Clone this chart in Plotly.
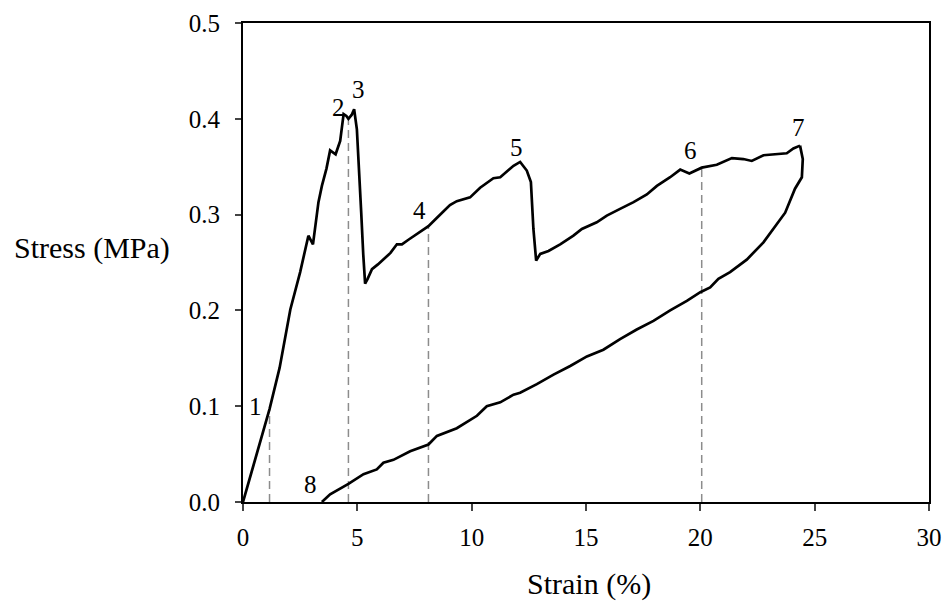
import plotly.graph_objects as go

# Loading curve (strain %, stress MPa)
load_strain = [0.0, 0.5, 1.16, 1.6, 2.07, 2.5, 2.86, 3.06, 3.18, 3.30, 3.45, 3.65, 3.81, 4.05, 4.25, 4.40,
               4.52, 4.61, 4.75, 4.86, 4.98, 5.08, 5.17, 5.26, 5.34, 5.45, 5.64, 5.9, 6.14, 6.45, 6.73, 6.95,
               7.25, 7.60, 7.85, 8.11, 8.45, 8.77, 9.05, 9.35, 9.65, 9.93, 10.37, 10.7, 10.95, 11.25, 11.55, 11.83,
               12.12, 12.41, 12.59, 12.70, 12.82, 13.00, 13.36, 13.87, 14.45, 14.82, 15.47, 15.91,
               16.49, 17.08, 17.66, 18.10, 18.68, 19.12, 19.52, 20.06, 20.72, 21.38, 21.88, 22.25,
               22.76, 23.30, 23.78, 24.07, 24.36]
load_stress = [0.0, 0.043, 0.097, 0.140, 0.201, 0.240, 0.278, 0.269, 0.290, 0.313, 0.330, 0.348, 0.367, 0.363, 0.377, 0.405,
               0.403, 0.400, 0.404, 0.410, 0.389, 0.350, 0.302, 0.258, 0.228, 0.233, 0.243, 0.248, 0.253, 0.260, 0.269, 0.269,
               0.274, 0.280, 0.284, 0.288, 0.296, 0.304, 0.310, 0.314, 0.316, 0.318, 0.328, 0.334, 0.338, 0.339, 0.345, 0.351,
               0.355, 0.346, 0.334, 0.285, 0.252, 0.259, 0.262, 0.269, 0.278, 0.285, 0.292, 0.299,
               0.306, 0.313, 0.321, 0.330, 0.339, 0.347, 0.343, 0.349, 0.352, 0.359, 0.358, 0.356,
               0.362, 0.363, 0.364, 0.369, 0.372]

# Unloading curve
unload_strain = [24.36, 24.48, 24.44, 24.14, 23.71, 23.20, 22.76, 22.03, 21.30, 20.79, 20.43, 20.0,
                 19.41, 18.68, 17.95, 17.22, 16.49, 15.76, 15.04, 14.31, 13.58, 12.85, 12.12, 11.83, 11.25,
                 10.66, 10.23, 9.35, 8.48, 8.11, 7.31, 6.58, 6.14, 5.85, 5.27, 4.61, 3.81, 3.45]
unload_stress = [0.372, 0.358, 0.339, 0.327, 0.302, 0.285, 0.271, 0.253, 0.240, 0.233, 0.224, 0.219,
                 0.210, 0.200, 0.189, 0.180, 0.170, 0.159, 0.152, 0.142, 0.133, 0.123, 0.114, 0.112, 0.104,
                 0.100, 0.090, 0.077, 0.069, 0.060, 0.053, 0.044, 0.041, 0.034, 0.029, 0.019, 0.008, 0.0]

# Dashed marker lines
marker_strain = [1.16, 4.61, 8.11, 20.06]
marker_stress = [0.097, 0.400, 0.288, 0.349]

# Point labels
label_text = ["1", "2", "3", "4", "5", "6", "7", "8"]
label_strain = [0.55, 4.18, 5.05, 7.7, 11.97, 19.58, 24.29, 2.97]
label_stress = [0.100, 0.412, 0.431, 0.304, 0.370, 0.367, 0.391, 0.018]

x_ticks = [0, 5, 10, 15, 20, 25, 30]
y_ticks = [0.0, 0.1, 0.2, 0.3, 0.4, 0.5]

FONT = "'Times New Roman', 'Liberation Serif', 'DejaVu Serif', serif"

fig = go.Figure()
for mx, my in zip(marker_strain, marker_stress):
    fig.add_trace(go.Scatter(x=[mx, mx], y=[0, my], mode="lines",
                             line=dict(color="#8c8c8c", width=1.5, dash="8px,5px"),
                             hoverinfo="skip", showlegend=False))
fig.add_trace(go.Scatter(x=load_strain, y=load_stress, mode="lines",
                         line=dict(color="black", width=2.7), showlegend=False))
fig.add_trace(go.Scatter(x=unload_strain, y=unload_stress, mode="lines",
                         line=dict(color="black", width=2.7), showlegend=False))

for t, lx, ly in zip(label_text, label_strain, label_stress):
    fig.add_annotation(x=lx, y=ly, text=t, showarrow=False, xref="x", yref="y",
                       font=dict(family=FONT, size=25, color="black"))

fig.add_annotation(x=-0.22, y=0.531, xref="paper", yref="paper", text="Stress (MPa)",
                   showarrow=False, xanchor="center", yanchor="middle",
                   font=dict(family=FONT, size=30, color="black"))
fig.add_annotation(x=0.505, y=-0.171, xref="paper", yref="paper", text="Strain (%)",
                   showarrow=False, xanchor="center", yanchor="middle",
                   font=dict(family=FONT, size=30, color="black"))

fig.update_layout(
    width=945, height=601,
    margin=dict(l=243, r=16, t=23, b=99, autoexpand=False),
    paper_bgcolor="white", plot_bgcolor="white",
    font=dict(family=FONT, size=25, color="black"),
    hovermode=False,
    xaxis=dict(range=[0, 30], tickvals=x_ticks, ticks="outside", ticklen=7, tickwidth=1.5,
               showline=True, linecolor="black", linewidth=1.8, mirror=True,
               showgrid=False, zeroline=False, ticklabelstandoff=5, automargin=False,
               tickfont=dict(family=FONT, size=25, color="black")),
    yaxis=dict(range=[0, 0.5], tickvals=y_ticks, tickformat=".1f", ticks="outside", ticklen=6,
               tickwidth=1.5, showline=True, linecolor="black", linewidth=1.8, mirror=True,
               showgrid=False, zeroline=False, ticklabelstandoff=10, automargin=False,
               tickfont=dict(family=FONT, size=25, color="black")),
)

fig.write_html("out.html", config={"displayModeBar": False},
               post_script="document.body.style.margin='0';document.body.style.padding='0';")
